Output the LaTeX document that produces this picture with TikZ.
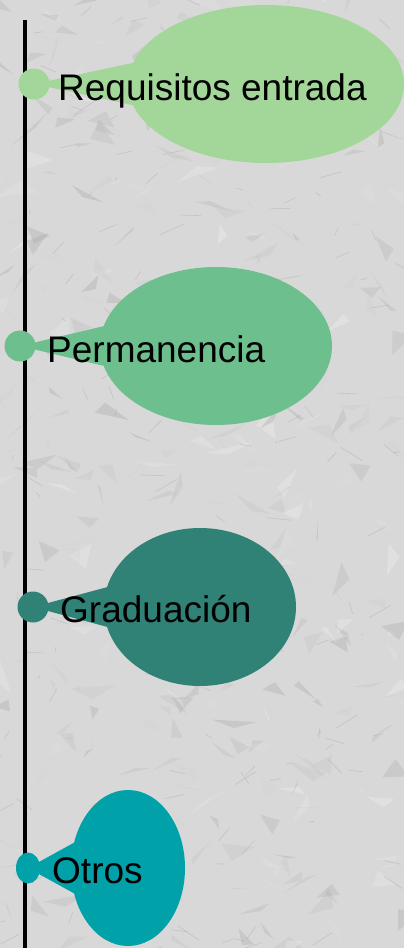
\documentclass[tikz,border=0pt]{standalone}
\usepackage{fontspec}
\setmainfont{Liberation Sans}
\usetikzlibrary{shapes.geometric}
\definecolor{bgpaper}{HTML}{D8D8D8}
\definecolor{creaseA}{HTML}{A8A8A8}
\definecolor{creaseB}{HTML}{F2F2F2}
\definecolor{cReq}{HTML}{A3D799}
\definecolor{cPerm}{HTML}{6DBF8E}
\definecolor{cGrad}{HTML}{318276}
\definecolor{cOtros}{HTML}{00A1A8}
\tikzset{
  bubble/.style={ellipse, inner sep=0pt, draw=none},
  dotnode/.style={circle, inner sep=0pt, minimum size=31pt, draw=none},
  label/.style={anchor=base west, inner sep=0pt, text=black, font=\fontsize{37}{44}\selectfont},
  axisline/.style={line width=3.5pt, black},
}
\begin{document}
\begin{tikzpicture}[x=1pt,y=-1pt]
\useasboundingbox (0,0) rectangle (404,948);
\clip (0,0) rectangle (404,948);
\fill[bgpaper] (0,0) rectangle (404,948);
% crumpled paper texture: facets
\pgfmathsetseed{11}
\foreach \i in {1,...,420}{
  \pgfmathsetmacro{\xa}{rnd*420-8}
  \pgfmathsetmacro{\ya}{rnd*960-6}
  \pgfmathsetmacro{\bx}{(rnd-0.5)*50}
  \pgfmathsetmacro{\by}{(rnd-0.5)*40}
  \pgfmathsetmacro{\cx}{(rnd-0.5)*50}
  \pgfmathsetmacro{\cy}{(rnd-0.5)*40}
  \pgfmathsetmacro{\mix}{rnd*100}
  \fill[creaseB!\mix!creaseA, opacity=0.35] (\xa,\ya) -- ++(\bx,\by) -- ++(\cx,\cy) -- cycle;
}
\foreach \i in {1,...,160}{
  \pgfmathsetmacro{\xa}{rnd*404}
  \pgfmathsetmacro{\ya}{rnd*948}
  \pgfmathsetmacro{\dx}{(rnd-0.5)*50}
  \pgfmathsetmacro{\dy}{(rnd-0.5)*30}
  \draw[creaseA, line width=0.6pt, opacity=0.45] (\xa,\ya) -- ++(\dx,\dy);
}
% timeline
\coordinate (top) at (25,20);
\coordinate (bot) at (25,948);
\draw[axisline] (top) -- (bot);
% bubbles
\node[bubble, fill=cReq, minimum width=276pt, minimum height=158pt] (e1) at (266,84) {};
\node[bubble, fill=cPerm, minimum width=232pt, minimum height=158pt] (e2) at (216,346) {};
\node[bubble, fill=cGrad, minimum width=192pt, minimum height=158pt] (e3) at (200,607) {};
\node[bubble, fill=cOtros, minimum width=114pt, minimum height=156pt] (e4) at (128,868) {};
% dots
\node[dotnode, fill=cReq] (d1) at (34,84) {};
\node[dotnode, fill=cPerm] (d2) at (20,346) {};
\node[dotnode, fill=cGrad] (d3) at (33,607) {};
\node[dotnode, fill=cOtros, minimum width=24pt, minimum height=31pt, ellipse] (d4) at (28,868) {};
% pointers
\fill[cReq] (d1.center) -- (e1.171) -- (e1.189) -- cycle;
\fill[cPerm] (d2.center) -- (e2.170) -- (e2.190) -- cycle;
\fill[cGrad] (d3.center) -- (e3.168) -- (e3.192) -- cycle;
\fill[cOtros] (d4.center) -- (e4.155) -- (e4.205) -- cycle;
% labels
\node[label] (t1) at (58,100) {Requisitos entrada};
\node[label] (t2) at (47,362) {Permanencia};
\node[label] (t3) at (60,622) {Graduación};
\node[label] (t4) at (52,883) {Otros};
\end{tikzpicture}
\end{document}
